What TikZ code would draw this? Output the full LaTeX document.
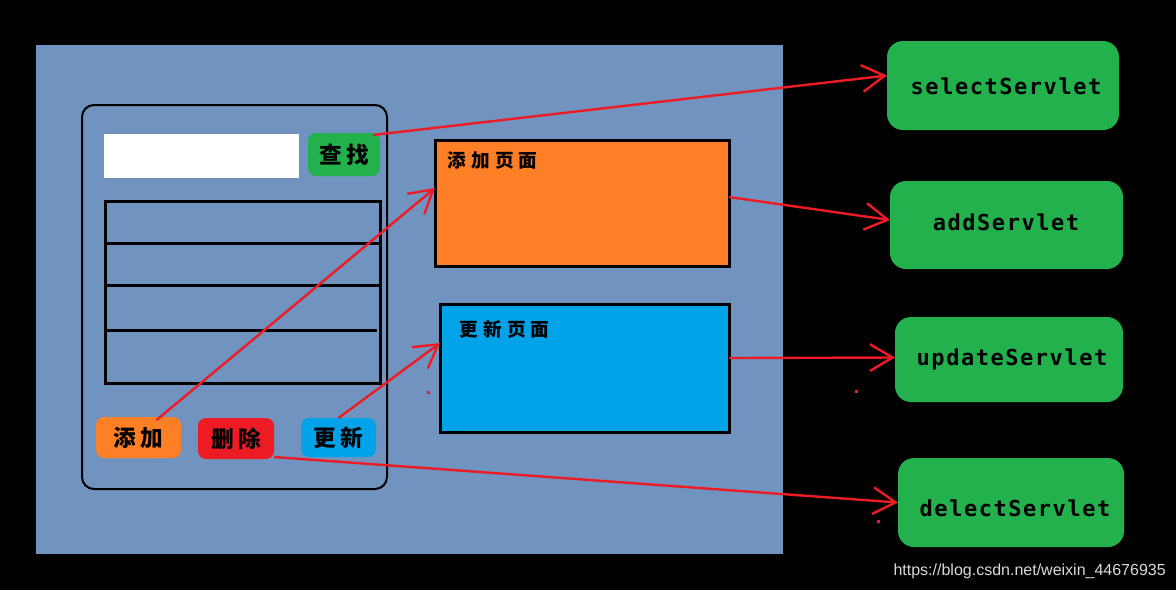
\documentclass[tikz,border=0pt]{standalone}
\usepackage{fontspec}
\usetikzlibrary{arrows.meta,calc}
\newfontfamily\cjk{Noto Sans CJK SC}[LetterSpace=18]
\newfontfamily\cjkwide{Noto Sans CJK SC}[LetterSpace=28]
\newfontfamily\monob{DejaVu Sans Mono Bold}[LetterSpace=7]
\newfontfamily\wm{Liberation Sans}
\definecolor{bgblue}{RGB}{112,147,191}
\definecolor{sgreen}{RGB}{34,177,76}
\definecolor{sorange}{RGB}{255,127,39}
\definecolor{sred}{RGB}{237,28,36}
\definecolor{scyan}{RGB}{0,162,232}
\tikzset{
  sz/.style 2 args={minimum width={#1*0.75pt},minimum height={#2*0.75pt},inner sep=0pt,outer sep=0pt},
  btn/.style={rounded corners=6pt,font=\cjk\bfseries\fontsize{17}{17}\selectfont,text=black},
  page/.style={draw=black,line width=2.25pt},
  pagelbl/.style={anchor=north west,inner sep=0pt,font=\cjkwide\bfseries\fontsize{14}{14}\selectfont},
  servlet/.style={fill=sgreen,rounded corners=12pt},
  stext/.style={font=\monob\fontsize{16.5}{16.5}\selectfont,text=black},
  link/.style={draw=sred,line width=1.8pt,-{Straight Barb[length=17pt,width=20pt,line width=1.8pt]}},
}
\begin{document}
\begin{tikzpicture}[x=0.75pt,y=-0.75pt]
\fill[black] (0,0) rectangle (1176,590);
\useasboundingbox (0,0) rectangle (1176,590);
% blue panel
\node[fill=bgblue,sz={747}{509},anchor=north west] (panel) at (36,45) {};
% phone frame
\node[draw=black,line width=1.5pt,rounded corners=9pt,sz={305}{384},anchor=north west] (frame) at (82,105) {};
% search box
\node[fill=white,sz={195}{44},anchor=north west] (search) at (104,134) {};
\node[btn,fill=sgreen,sz={72}{43},anchor=north west] (find) at (308,133) {查找};
% table
\node[draw=black,line width=2.25pt,sz={275}{182},anchor=north west] (table) at (105,201) {};
\draw[line width=2.25pt] (105,243) -- (380,243);
\draw[line width=2.25pt] (105,285) -- (380,285);
\draw[line width=2.25pt] (105,330) -- (377,330);
% buttons
\node[btn,fill=sorange,sz={85}{41},anchor=north west] (addbtn) at (96,417) {添加};
\node[btn,fill=sred,sz={76}{41},anchor=north west] (delbtn) at (198,418) {删除};
\node[btn,fill=scyan,sz={75}{39},anchor=north west] (updbtn) at (301,418) {更新};
% pages
\node[page,fill=sorange,sz={294}{126},anchor=north west] (addpage) at (435,140) {};
\node[pagelbl] (addlbl) at (447,151) {添加页面};
\node[page,fill=scyan,sz={289}{128},anchor=north west] (updpage) at (440,304) {};
\node[pagelbl] (updlbl) at (459,320) {更新页面};
% servlets
\node[servlet,sz={232}{89},anchor=north west] (selS) at (887,41) {};
\node[stext] (selT) at (1006,86) {selectServlet};
\node[servlet,sz={233}{88},anchor=north west] (addS) at (890,181) {};
\node[stext] (addT) at (1006,222) {addServlet};
\node[servlet,sz={228}{85},anchor=north west] (updS) at (895,317) {};
\node[stext] (updT) at (1012,359) {updateServlet};
\node[servlet,sz={226}{89},anchor=north west] (delS) at (898,458) {};
\node[stext] (delT) at (1015,508) {delectServlet};
% connectors
\draw[link] ($(find.north east)+(-7,2)$) -- ($(selS.west)+(0,-10)$);
\draw[link] ($(addbtn.north)+(18,3)$) -- ($(addpage.west)+(0,-15)$);
\draw[link] (updbtn.north) -- ($(updpage.west)+(0,-25)$);
\draw[link] ($(delbtn.south east)+(0,-2)$) -- (delS.west);
\draw[link] ($(addpage.east)+(0,-6)$) -- ($(addS.west)+(0,-5)$);
\draw[link] ($(updpage.east)+(0,-10)$) -- ($(updS.west)+(0,-2)$);
% stray dots
\fill[sred] (427,391) rectangle (430,394);
\fill[sred] (855,390) rectangle (858,393);
\fill[sred] (877,520) rectangle (880,523);
% watermark
\node[anchor=east,inner sep=0pt,text=white!85!black,font=\wm\fontsize{12}{12}\selectfont] (wmark) at (1166,571) {https://blog.csdn.net/weixin\_44676935};
\end{tikzpicture}
\end{document}
